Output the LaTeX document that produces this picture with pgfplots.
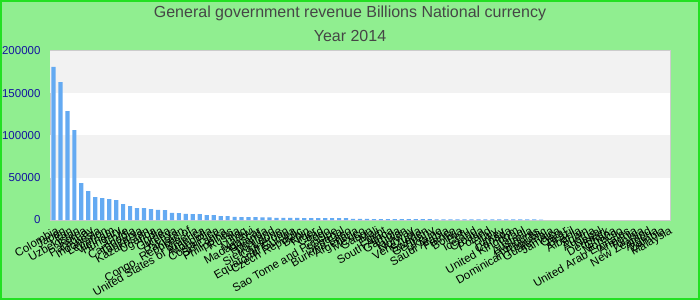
\documentclass[border=0pt]{standalone}
\usepackage{fontspec}
\setmainfont{Liberation Sans}
\usepackage{pgfplots}
\pgfplotsset{compat=1.18}
\definecolor{bggreen}{HTML}{90EE90}
\definecolor{brd}{HTML}{22E022}
\definecolor{band}{HTML}{F2F2F2}
\definecolor{barblue}{RGB}{100,170,242}
\definecolor{ticknavy}{RGB}{20,20,160}
\definecolor{titlegray}{RGB}{70,70,70}
\begin{document}
\begin{tikzpicture}
\useasboundingbox (0,0) rectangle (700bp,300bp);
\fill[bggreen] (0,0) rectangle (700bp,300bp);
\node[font=\fontsize{16bp}{19bp}\selectfont, text=titlegray] at (350bp,287bp) {General government revenue Billions National currency};
\node[font=\fontsize{16bp}{19bp}\selectfont, text=titlegray] at (350bp,264bp) {Year 2014};
\begin{axis}[
  at={(50bp,80bp)}, anchor=south west,
  width=620bp, height=169bp, scale only axis,
  xmin=-0.5, xmax=88.5, ymin=0, ymax=200000,
  axis background/.style={fill=white},
  axis line style={draw=black!20, line width=1bp},
  ytick={0,50000,100000,150000,200000},
  scaled y ticks=false,
  yticklabel style={/pgf/number format/fixed, /pgf/number format/1000 sep={}, /pgf/number format/assume math mode=true, font=\fontsize{11.5bp}{13bp}\selectfont, text=ticknavy, xshift=-6bp},
  major tick length=0pt,
  xtick={0,...,88},
  xticklabels={Colombia,Japan,Iran,Uzbekistan,Korea,Paraguay,Indonesia,Lebanon,Vietnam,Hungary,Chile,Cambodia,Tanzania,Kazakhstan,Uganda,India,Guinea,Kenya,Pakistan,{Congo, Republic of},Nigeria,United States of America,Mongolia,Costa Rica,Sri Lanka,Philippines,Russia,Iraq,Malawi,Madagascar,Rwanda,Thailand,Sierra Leone,Cameroon,Equatorial Guinea,Czech Republic,Benin,Niger,Chad,Togo,Sao Tome and Principe,Senegal,Burkina Faso,Argentina,Mexico,Gabon,Mali,Egypt,South Africa,Gambia,Taiwan,Norway,Venezuela,Sweden,Germany,Ukraine,Saudi Arabia,France,Bolivia,Peru,Iceland,Croatia,Poland,Italy,Turkey,Canada,United Kingdom,Israel,Australia,Honduras,Dominican Republic,Guatemala,Jamaica,Qatar,Brazil,Albania,Spain,Austria,Nepal,Denmark,Ghana,Morocco,United Arab Emirates,Armenia,Tunisia,New Zealand,Algeria,Zambia,Malaysia},
  xticklabel style={font=\fontsize{11.5bp}{13bp}\selectfont, rotate=30, anchor=north east, inner sep=1bp, yshift=-5bp},
  clip=false,
]
\fill[band] (axis cs:-0.5,50000) rectangle (axis cs:88.5,100000);
\fill[band] (axis cs:-0.5,150000) rectangle (axis cs:88.5,200000);
\addplot[ybar, bar width=4.2bp, fill=barblue, draw=none] coordinates {
(0,181200) (1,163100) (2,128800) (3,106400) (4,43700) (5,34300) (6,27200) (7,26000) (8,24800) (9,23600)
(10,18900) (11,16500) (12,14200) (13,14000) (14,13000) (15,11900) (16,11700) (17,8400) (18,8200) (19,7200)
(20,7100) (21,7000) (22,5900) (23,5800) (24,4700) (25,4600) (26,3600) (27,3500) (28,3400) (29,3300)
(30,3200) (31,3100) (32,2500) (33,2450) (34,2400) (35,2380) (36,2350) (37,2320) (38,2300) (39,2280)
(40,2250) (41,2220) (42,2200) (43,1300) (44,1250) (45,1200) (46,1150) (47,1100) (48,1050) (49,1000)
(50,980) (51,960) (52,940) (53,920) (54,900) (55,880) (56,860) (57,840) (58,820) (59,800)
(60,780) (61,760) (62,740) (63,720) (64,700) (65,680) (66,660) (67,640) (68,620) (69,600) (70,580)
};
\end{axis}
\draw[brd, line width=2bp] (1bp,1bp) rectangle (699bp,299bp);
\end{tikzpicture}
\end{document}
